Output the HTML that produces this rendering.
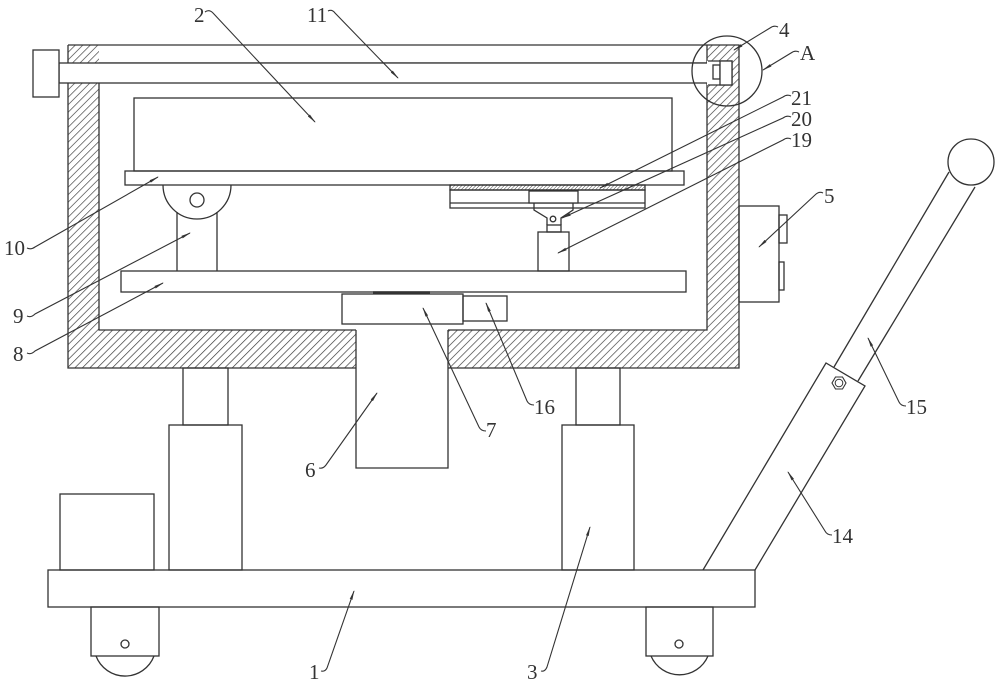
<!DOCTYPE html>
<html>
<head>
<meta charset="utf-8">
<style>
html,body{margin:0;padding:0;background:#fff;}
svg{display:block;}
text{font-family:"Liberation Serif",serif;font-size:21px;fill:#333;}
</style>
</head>
<body>
<svg width="1000" height="686" viewBox="0 0 1000 686" xmlns="http://www.w3.org/2000/svg">
<defs>
<pattern id="h" width="5.3" height="5.3" patternUnits="userSpaceOnUse" patternTransform="rotate(45)">
<line x1="0" y1="0" x2="0" y2="5.3" stroke="#333" stroke-width="1.3"/>
</pattern>
<pattern id="hf" width="2.5" height="2.5" patternUnits="userSpaceOnUse" patternTransform="rotate(45)">
<line x1="0" y1="0" x2="0" y2="2.5" stroke="#333" stroke-width="0.9"/>
</pattern>
<marker id="ar" markerWidth="10" markerHeight="6" refX="9" refY="3" orient="auto" markerUnits="userSpaceOnUse">
<path d="M0,1.6 L10,3 L0,4.4 Z" fill="#333"/>
</marker>
</defs>

<g stroke="#333" stroke-width="1.3" fill="none">
<!-- hatched walls -->
<rect x="68" y="45" width="31" height="323" fill="url(#h)" stroke="none"/>
<rect x="707" y="45" width="32" height="323" fill="url(#h)" stroke="none"/>
<rect x="99" y="330" width="257" height="38" fill="url(#h)" stroke="none"/>
<rect x="448" y="330" width="259" height="38" fill="url(#h)" stroke="none"/>

<!-- frame outline -->
<path d="M68,45 H739 V368 H448 M356,368 H68 V45"/>
<path d="M99,83 V330 H356 M448,330 H707 V45"/>
<line x1="99" y1="63" x2="707" y2="63"/>

<!-- shaft 11 -->
<rect x="59" y="63" width="654" height="20" fill="#fff"/>
<rect x="33" y="50" width="26" height="47" fill="#fff"/>
<!-- right wall cutout, nub, part 4 -->
<rect x="707" y="61" width="25" height="24" fill="#fff" stroke="none"/>
<path d="M708,61 H732 V85 H708"/>
<rect x="713" y="65" width="7" height="14" fill="#fff"/>
<rect x="720" y="61" width="12" height="24" fill="#fff"/>
<!-- circle A -->
<circle cx="727" cy="71" r="35"/>

<!-- box 2 and plate 10 -->
<rect x="134" y="98" width="538" height="73"/>
<rect x="125" y="171" width="559" height="14"/>
<!-- hinge -->
<path d="M163,185 A34,34 0 0 0 231,185"/>
<circle cx="197" cy="200" r="7"/>
<line x1="177" y1="212" x2="177" y2="271"/>
<line x1="217" y1="212" x2="217" y2="271"/>
<!-- plate 8 -->
<rect x="121" y="271" width="565" height="21"/>

<!-- under-plate assembly 21/20/19 -->
<rect x="450" y="185" width="195" height="5" fill="url(#hf)"/>
<rect x="450" y="190" width="195" height="18"/>
<line x1="450" y1="203" x2="645" y2="203"/>
<rect x="529" y="191" width="49" height="12" fill="#fff"/>
<path d="M534,203 V210 L547,218 V225 M573,203 V210 L561,218 V225"/>
<circle cx="553" cy="219" r="2.8"/>
<rect x="547" y="225" width="14" height="7"/>
<rect x="538" y="232" width="31" height="39"/>

<!-- motor 7 and 16 -->
<line x1="373" y1="292.5" x2="430" y2="292.5" stroke-width="2.6"/>
<rect x="342" y="294" width="121" height="30"/>
<rect x="463" y="296" width="44" height="25"/>
<!-- column 6 -->
<path d="M356,330 V468 H448 V330"/>

<!-- box 5 -->
<rect x="739" y="206" width="40" height="96"/>
<rect x="779" y="215" width="8" height="28"/>
<rect x="779" y="262" width="5" height="28"/>

<!-- legs -->
<rect x="183" y="368" width="45" height="57"/>
<rect x="169" y="425" width="73" height="145"/>
<rect x="576" y="368" width="44" height="57"/>
<rect x="562" y="425" width="72" height="145"/>
<!-- small box -->
<rect x="60" y="494" width="94" height="76"/>
<!-- base 1 -->
<rect x="48" y="570" width="707" height="37"/>
<!-- wheels -->
<rect x="91" y="607" width="68" height="49"/>
<path d="M96,656 A31,31 0 0 0 154,656"/>
<circle cx="125" cy="644" r="4"/>
<rect x="646" y="607" width="67" height="49"/>
<path d="M651,656 A31,31 0 0 0 708,656"/>
<circle cx="679" cy="644" r="4"/>

<!-- handle tube 14 -->
<path d="M703,570 L826,363 L865,386 L755,570"/>
<!-- rod 15 -->
<line x1="834" y1="367" x2="949" y2="172"/>
<line x1="858" y1="381" x2="975" y2="187"/>
<circle cx="971" cy="162" r="23" fill="#fff"/>
<!-- nut -->
<polygon points="846,383 842.5,389 835.5,389 832,383 835.5,377 842.5,377" stroke-width="1.1"/>
<circle cx="839" cy="383" r="3.8" stroke-width="1"/>
</g>

<!-- leaders -->
<g stroke="#333" stroke-width="1.1" fill="none">
<path d="M205,12 q4,-3 8,1 L315,122" marker-end="url(#ar)"/>
<path d="M328,11 q4,-2 7,2 L398,78" marker-end="url(#ar)"/>
<path d="M778,27 q-4,-2 -8,1 L734,50" marker-end="url(#ar)"/>
<path d="M799,52 q-4,-2 -8,1 L763,70" marker-end="url(#ar)"/>
<path d="M791,96 q-4,-2 -8,1 L600,188" marker-end="url(#ar)"/>
<path d="M791,117 q-4,-2 -8,1 L562,218" marker-end="url(#ar)"/>
<path d="M791,139 q-4,-2 -8,1 L558,253" marker-end="url(#ar)"/>
<path d="M823,193 q-4,-2 -8,2 L759,247" marker-end="url(#ar)"/>
<path d="M27,248 q4,2 8,-1 L158,177" marker-end="url(#ar)"/>
<path d="M27,316 q4,2 8,-2 L190,233" marker-end="url(#ar)"/>
<path d="M27,353 q4,2 8,-2 L163,283" marker-end="url(#ar)"/>
<path d="M319,468 q4,1 7,-3 L377,393" marker-end="url(#ar)"/>
<path d="M486,431 q-5,0 -7,-4 L423,308" marker-end="url(#ar)"/>
<path d="M534,405 q-5,0 -7,-4 L486,303" marker-end="url(#ar)"/>
<path d="M906,406 q-5,0 -7,-4 L868,338" marker-end="url(#ar)"/>
<path d="M832,535 q-5,0 -7,-4 L788,472" marker-end="url(#ar)"/>
<path d="M321,671 q4,1 6,-3 L354,591" marker-end="url(#ar)"/>
<path d="M541,671 q4,1 6,-4 L590,527" marker-end="url(#ar)"/>
</g>

<!-- labels -->
<text x="194" y="22">2</text>
<text x="307" y="22">11</text>
<text x="779" y="37">4</text>
<text x="800" y="60">A</text>
<text x="791" y="105">21</text>
<text x="791" y="126">20</text>
<text x="791" y="147">19</text>
<text x="824" y="203">5</text>
<text x="4" y="255">10</text>
<text x="13" y="323">9</text>
<text x="13" y="361">8</text>
<text x="305" y="477">6</text>
<text x="486" y="437">7</text>
<text x="534" y="414">16</text>
<text x="906" y="414">15</text>
<text x="832" y="543">14</text>
<text x="309" y="679">1</text>
<text x="527" y="679">3</text>
</svg>
</body>
</html>
